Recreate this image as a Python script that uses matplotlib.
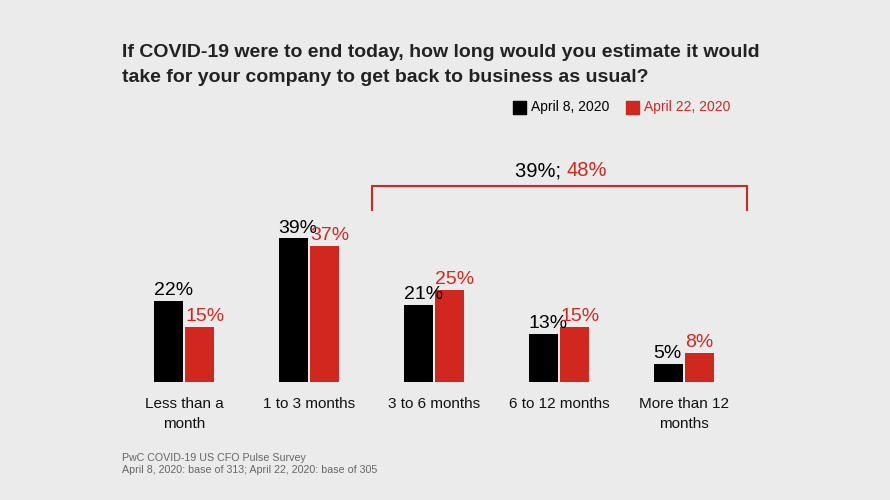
import numpy as np
import matplotlib.pyplot as plt

plt.rcParams['font.family'] = ['Liberation Sans', 'DejaVu Sans']

# data
categories = ['Less than a\nmonth', '1 to 3 months', '3 to 6 months', '6 to 12 months', 'More than 12\nmonths']
april8 = [22, 39, 21, 13, 5]
april22 = [15, 37, 25, 15, 8]
series_names = ['April 8, 2020', 'April 22, 2020']

BLACK = '#000000'
RED = '#d0281e'
BG = '#ebebeb'

fig = plt.figure(figsize=(8.9, 5), dpi=100, facecolor=BG)
ax = fig.add_axes([59 / 890, 118 / 500, 750 / 890, 221 / 500])
ax.set_facecolor(BG)
ax.set_xlim(-1, 5)
ax.set_ylim(0, 60)
ax.axis('off')

x = np.arange(len(categories))
w = 0.232
off = 0.127
b1 = ax.bar(x - off, april8, w, color=BLACK)
b2 = ax.bar(x + off, april22, w, color=RED)

# value labels, left aligned on the bar (they overlap a little, as in the original)
for bars, vals, col in [(b1, april8, BLACK), (b2, april22, RED)]:
    for b, v in zip(bars, vals):
        ax.text(b.get_x(), v + 0.5, f'{v}%', ha='left', va='bottom',
                fontsize=14, color=col)

# category labels
for xi, c in zip(x, categories):
    ax.text(xi, -4.0, c, ha='center', va='top', fontsize=11, color='#111111',
            linespacing=1.6)

# bracket over the longer durations
s1 = sum(april8[2:])
s2 = sum(april22[2:])
bx0, bx1 = 1.5, 4.5
ax.plot([bx0, bx0, bx1, bx1], [46.6, 53.3, 53.3, 46.6], color=RED, lw=1.5,
        clip_on=False, solid_joinstyle='miter')
ax.text(3.06, 57.4, f'{s1}%; ', ha='right', va='center', fontsize=14.5, color=BLACK)
ax.text(3.06, 57.4, f'{s2}%', ha='left', va='center', fontsize=14.5, color=RED)

# title
fig.text(122 / 890, 1 - 65 / 500,
         'If COVID-19 were to end today, how long would you estimate it would\n'
         'take for your company to get back to business as usual?',
         ha='left', va='center', fontsize=14, fontweight='bold', color='#222222',
         linespacing=1.6)

# legend
ly = 1 - 107 / 500
fig.patches.append(plt.Rectangle((513 / 890, 1 - 114 / 500), 13 / 890, 13 / 500,
                                 color=BLACK, transform=fig.transFigure))
fig.text(531 / 890, ly, series_names[0], ha='left', va='center', fontsize=10, color=BLACK)
fig.patches.append(plt.Rectangle((626 / 890, 1 - 114 / 500), 13 / 890, 13 / 500,
                                 color=RED, transform=fig.transFigure))
fig.text(644 / 890, ly, series_names[1], ha='left', va='center', fontsize=10, color=RED)

# source note
fig.text(122 / 890, 1 - 464 / 500,
         'PwC COVID-19 US CFO Pulse Survey\nApril 8, 2020: base of 313; April 22, 2020: base of 305',
         ha='left', va='center', fontsize=7.7, color='#666666', linespacing=1.2)

fig.savefig('out.png', dpi=100, facecolor=BG)
